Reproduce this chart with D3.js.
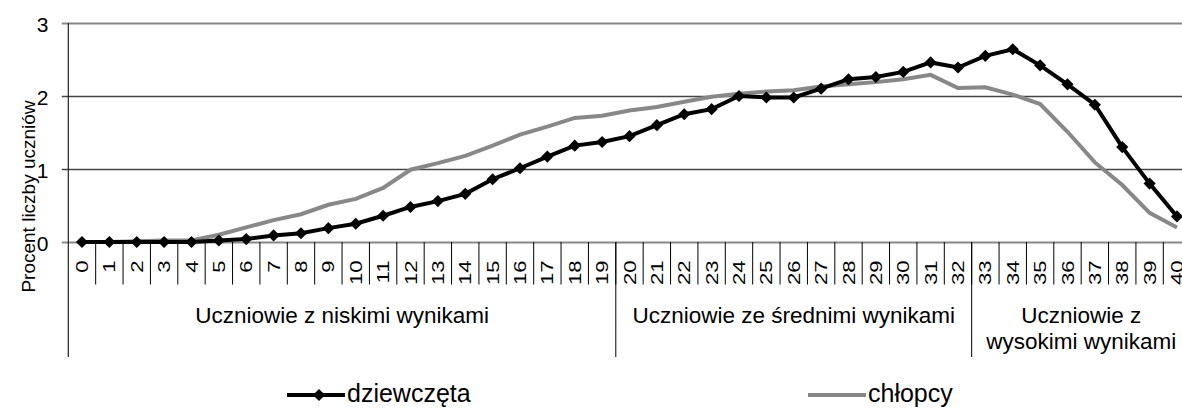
<!DOCTYPE html>
<html>
<head>
<meta charset="utf-8">
<script src="https://cdn.jsdelivr.net/npm/d3@7"></script>
<style>
  body { margin: 0; background: #fff; }
  text { font-family: "Liberation Sans", Arial, sans-serif; fill: #000; }
</style>
</head>
<body>
<div id="wykres"></div>
<script>
// punkty 0..40
const punkty = d3.range(0, 41).map(String)

const dziewczeta = [0, 0, 0, 0, 0, 0.02, 0.04, 0.09, 0.12, 0.19,
  0.25, 0.36, 0.48, 0.56, 0.66, 0.86, 1.01, 1.17, 1.32, 1.37,
  1.45, 1.60, 1.75, 1.82, 2.00, 1.98, 1.98, 2.10, 2.23, 2.26,
  2.33, 2.46, 2.39, 2.55, 2.64, 2.42, 2.16, 1.88, 1.30, 0.80, 0.35]

const chlopcy = [0, 0, 0.01, 0.02, 0.02, 0.10, 0.20, 0.30, 0.38, 0.51,
  0.59, 0.74, 0.99, 1.08, 1.18, 1.32, 1.47, 1.58, 1.70, 1.73,
  1.80, 1.85, 1.92, 1.99, 2.03, 2.06, 2.08, 2.13, 2.16, 2.19,
  2.23, 2.29, 2.11, 2.12, 2.02, 1.89, 1.51, 1.09, 0.78, 0.40, 0.20]

const grupy = [
  {od: "0", do: "19", nazwa: ["Uczniowie z niskimi wynikami"]},
  {od: "20", do: "32", nazwa: ["Uczniowie ze średnimi wynikami"]},
  {od: "33", do: "40", nazwa: ["Uczniowie z", "wysokimi wynikami"]}
]

const yTicks = [0, 1, 2, 3]

const width = 1182, height = 410
const plotLeft = 68.3, plotTop = 23, plotBottom = 242
const step = 27.375

const svg = d3.select("#wykres")
  .append("svg")
  .attr("width", width)
  .attr("height", height)

const x = d3.scaleBand()
  .domain(punkty)
  .range([plotLeft, plotLeft + step * punkty.length])

const y = d3.scaleLinear()
  .domain([0, 3])
  .range([plotBottom, plotTop])

// linie siatki
svg.selectAll(".grid")
  .data(yTicks)
  .join("line")
  .attr("x1", plotLeft - 6.5)
  .attr("x2", width)
  .attr("y1", d => y(d) + 0.5)
  .attr("y2", d => y(d) + 0.5)
  .attr("stroke", d => (d == 0 || d == 3) ? "#888" : "#444")
  .attr("stroke-width", d => (d == 0 || d == 3) ? 2 : 1.3)

svg.selectAll(".ylab")
  .data(yTicks)
  .join("text")
  .attr("x", 48.5)
  .attr("y", d => y(d) + 1)
  .attr("dy", "0.36em")
  .attr("text-anchor", "end")
  .attr("font-size", "21px")
  .text(d => d)

// os y
svg.append("line")
  .attr("x1", plotLeft).attr("x2", plotLeft)
  .attr("y1", plotTop).attr("y2", 357)
  .attr("stroke", "#222")
  .attr("stroke-width", 1.2)

svg.append("text")
  .attr("transform", "translate(34.5,196.5) rotate(-90)")
  .attr("text-anchor", "middle")
  .attr("font-size", "19px")
  .text("Procent liczby uczniów")

// podzialki kategorii
svg.selectAll(".sep")
  .data(punkty.slice(1))
  .join("line")
  .attr("x1", d => x(d)).attr("x2", d => x(d))
  .attr("y1", plotBottom).attr("y2", 284.5)
  .attr("stroke", "#000")
  .attr("stroke-width", 1)

svg.selectAll(".xlab")
  .data(punkty)
  .join("text")
  .attr("transform", d => `translate(${x(d) + x.bandwidth() / 2},260.5) rotate(-90) scale(1.3,1)`)
  .attr("text-anchor", "end")
  .attr("dy", "0.36em")
  .attr("font-size", "17px")
  .text(d => d)

// grupy
grupy.forEach((g, i) => {
  const x0 = x(g.od), x1 = x(g.do) + x.bandwidth()
  if (i > 0) {
    svg.append("line")
      .attr("x1", x0).attr("x2", x0)
      .attr("y1", plotBottom).attr("y2", 357)
      .attr("stroke", "#000")
      .attr("stroke-width", 1)
  }
  g.nazwa.forEach((t, j) => {
    svg.append("text")
      .attr("x", (x0 + x1) / 2)
      .attr("y", 322.5 + j * 26)
      .attr("text-anchor", "middle")
      .attr("font-size", "22.5px")
      .text(t)
  })
})

// linie danych
const line = d3.line()
  .x((d, i) => x(punkty[i]) + x.bandwidth() / 2)
  .y(d => y(d))

svg.append("path")
  .datum(chlopcy)
  .attr("fill", "none")
  .attr("stroke", "#888")
  .attr("stroke-width", 4)
  .attr("d", line)

svg.append("path")
  .datum(dziewczeta)
  .attr("fill", "none")
  .attr("stroke", "#000")
  .attr("stroke-width", 4)
  .attr("d", line)

const diament = d3.symbol().type(d3.symbolSquare).size(74)

svg.selectAll(".pkt")
  .data(dziewczeta)
  .join("path")
  .attr("transform", (d, i) => `translate(${x(punkty[i]) + x.bandwidth() / 2},${y(d)}) rotate(45)`)
  .attr("d", diament)
  .attr("fill", "#000")

// legenda
const legenda = [
  {nazwa: "dziewczęta", kolor: "#000", znacznik: true, x: 287},
  {nazwa: "chłopcy", kolor: "#888", znacznik: false, x: 808}
]

legenda.forEach(l => {
  svg.append("line")
    .attr("x1", l.x).attr("x2", l.x + 58)
    .attr("y1", 395).attr("y2", 395)
    .attr("stroke", l.kolor)
    .attr("stroke-width", 4)
  if (l.znacznik) {
    svg.append("path")
      .attr("transform", `translate(${l.x + 32},395) rotate(45)`)
      .attr("d", diament)
      .attr("fill", l.kolor)
  }
  svg.append("text")
    .attr("x", l.x + 60)
    .attr("y", 402)
    .attr("font-size", "25px")
    .text(l.nazwa)
})
</script>
</body>
</html>
